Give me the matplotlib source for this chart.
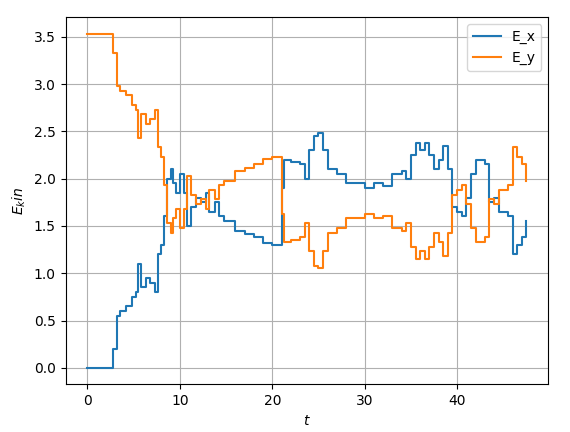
import matplotlib.pyplot as plt

# step times and kinetic energies
t = [0, 2.8, 3.2, 3.5, 4.2, 4.8, 5.3, 5.5, 5.8, 6.3, 6.8, 7.3, 7.6, 8.0, 8.3, 8.6, 9.0,
     9.3, 9.6, 10.0, 10.4, 10.8, 11.2, 11.7, 12.3, 12.8, 13.2, 13.8, 14.2, 14.8, 15.5,
     16.0, 17.0, 18.0, 19.0, 20.0, 21.0, 21.3, 22.0, 23.0, 23.5, 24.0, 24.5, 25.0, 25.5,
     26.0, 27.0, 28.0, 29.0, 30.0, 31.0, 32.0, 33.0, 34.0, 34.5, 35.0, 35.5, 36.0, 36.5,
     37.0, 37.5, 38.0, 38.5, 39.0, 39.5, 40.0, 40.5, 41.0, 41.5, 42.0, 43.0, 43.5, 44.0,
     44.5, 45.5, 46.0, 46.5, 47.0, 47.5]
E_x = [0, 0.2, 0.55, 0.6, 0.65, 0.75, 0.8, 1.1, 0.85, 0.95, 0.9, 0.8, 1.2, 1.3, 1.6, 2.0, 2.1,
       1.95, 1.85, 2.05, 1.85, 1.5, 1.7, 1.8, 1.75, 1.85, 1.65, 1.75, 1.6, 1.55, 1.55,
       1.45, 1.42, 1.38, 1.32, 1.3, 1.9, 2.2, 2.18, 2.15, 2.0, 2.3, 2.45, 2.48, 2.3,
       2.1, 2.05, 1.95, 1.95, 1.9, 1.95, 1.92, 2.05, 2.08, 2.0, 2.25, 2.38, 2.3, 2.38,
       2.25, 2.1, 2.2, 2.35, 2.1, 1.7, 1.65, 1.6, 1.8, 2.05, 2.2, 2.15, 1.75, 1.8,
       1.65, 1.6, 1.2, 1.3, 1.38, 1.55]
E_y = [3.53, 3.33, 2.98, 2.93, 2.88, 2.78, 2.73, 2.43, 2.68, 2.58, 2.63, 2.73, 2.33, 2.23, 1.93, 1.53, 1.43,
       1.58, 1.68, 1.48, 1.68, 2.03, 1.83, 1.73, 1.78, 1.68, 1.88, 1.78, 1.93, 1.98, 1.98,
       2.08, 2.11, 2.15, 2.21, 2.23, 1.63, 1.33, 1.35, 1.38, 1.53, 1.23, 1.08, 1.05, 1.23,
       1.43, 1.48, 1.58, 1.58, 1.63, 1.58, 1.61, 1.48, 1.45, 1.53, 1.28, 1.15, 1.23, 1.15,
       1.28, 1.43, 1.33, 1.18, 1.43, 1.83, 1.88, 1.93, 1.73, 1.48, 1.33, 1.38, 1.78, 1.73,
       1.88, 1.93, 2.33, 2.23, 2.15, 1.98]

fig, ax = plt.subplots(figsize=(5.7, 4.32), dpi=100)
fig.subplots_adjust(left=0.115, right=0.962, top=0.96, bottom=0.11)
ax.step(t, E_x, where='post', label='E_x')
ax.step(t, E_y, where='post', label='E_y')
ax.set_xlabel('$t$')
ax.set_ylabel('$E_kin$')
ax.grid(True)
ax.legend()
plt.savefig('out.png')
